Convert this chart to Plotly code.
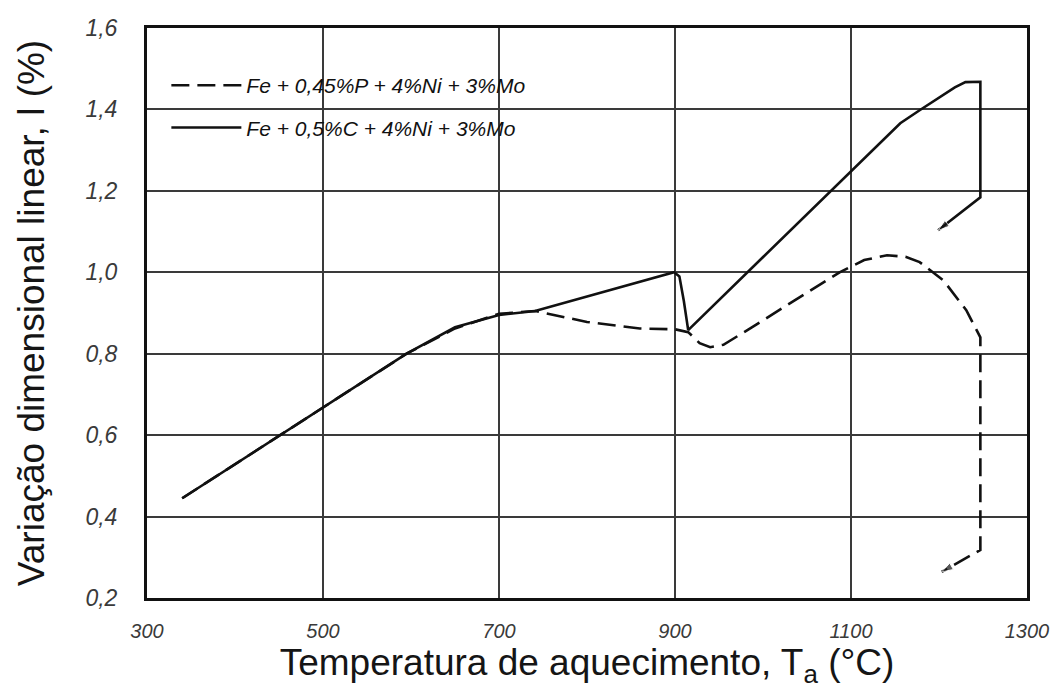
import plotly.graph_objects as go

# Dashed series: Fe+0,45%P+4%Ni+3%Mo
dash_T = [340, 450, 595, 650, 700, 741, 800, 860, 900, 915, 928, 940, 955, 980, 1023, 1060, 1087, 1115, 1141, 1162, 1178, 1205, 1231, 1247, 1247, 1203]
dash_v = [0.445, 0.598, 0.80, 0.862, 0.898, 0.905, 0.878, 0.862, 0.86, 0.853, 0.826, 0.816, 0.822, 0.855, 0.914, 0.965, 1.0, 1.03, 1.042, 1.038, 1.025, 0.98, 0.907, 0.84, 0.318, 0.264]

# Solid series: Fe+0,5%C+4%Ni+3%Mo
solid_T = [340, 450, 595, 650, 700, 741, 800, 860, 899, 905, 910, 915, 1000, 1100, 1156, 1178, 1201, 1218, 1230, 1247, 1247, 1199]
solid_v = [0.445, 0.598, 0.80, 0.865, 0.895, 0.905, 0.94, 0.975, 1.0, 0.99, 0.93, 0.858, 1.037, 1.248, 1.366, 1.398, 1.429, 1.454, 1.467, 1.468, 1.184, 1.103]

names = ["Fe + 0,45%P + 4%Ni + 3%Mo", "Fe + 0,5%C + 4%Ni + 3%Mo"]

x_ticks = [300, 500, 700, 900, 1100, 1300]
y_ticks = [0.2, 0.4, 0.6, 0.8, 1.0, 1.2, 1.4, 1.6]

ink = "#111111"

fig = go.Figure()
fig.add_trace(go.Scatter(x=dash_T, y=dash_v, mode="lines", name=names[0],
                         legendgroup="a",
                         line=dict(color=ink, width=2.6, dash="18px,8px")))
fig.add_trace(go.Scatter(x=solid_T, y=solid_v, mode="lines", name=names[1],
                         legendgroup="b",
                         line=dict(color=ink, width=2.6)))
# arrow heads at the ends
for xs, ys in [(dash_T, dash_v), (solid_T, solid_v)]:
    fig.add_trace(go.Scatter(x=xs[-2:], y=ys[-2:], mode="markers", showlegend=False,
                             hoverinfo="skip",
                             marker=dict(symbol="arrow", angleref="previous",
                                         size=[0, 12], color=ink)))

fig.update_layout(
    width=1051, height=695,
    margin=dict(l=147, r=24, t=28, b=97),
    paper_bgcolor="white", plot_bgcolor="white",
    separators=",.",
    font=dict(family="Liberation Sans, Arial, sans-serif", color="#222"),
    legend=dict(x=0.022, y=0.935, xanchor="left", yanchor="top",
                bgcolor="rgba(0,0,0,0)",
                font=dict(size=21, style="italic", color=ink),
                itemwidth=70, tracegroupgap=12),
    showlegend=True,
)
fig.update_xaxes(range=[300, 1300], tickvals=x_ticks, tickformat="d",
                 automargin=False,
                 showgrid=True, gridcolor="#3a3a3a", gridwidth=1.8,
                 showline=True, linecolor=ink, linewidth=3, mirror=True,
                 ticks="", ticklabelstandoff=13, zeroline=False,
                 ticklabeloverflow="allow",
                 tickfont=dict(size=20, style="italic", color="#3a3a3a"),
                 title=dict(text="Temperatura de aquecimento, T<sub>a</sub> (°C)",
                            font=dict(size=37, color="#151515"), standoff=8))
fig.update_yaxes(range=[0.2, 1.6], tickvals=y_ticks, tickformat=".1f",
                 automargin=False,
                 showgrid=True, gridcolor="#3a3a3a", gridwidth=1.8,
                 showline=True, linecolor=ink, linewidth=3, mirror=True,
                 ticks="", ticklabelstandoff=22, zeroline=False,
                 ticklabeloverflow="allow",
                 tickfont=dict(size=23, style="italic", color="#3a3a3a"),
                 title=dict(text="Variação dimensional linear, l (%)",
                            font=dict(size=37, color="#151515"), standoff=30))

fig.write_html("out.html")
